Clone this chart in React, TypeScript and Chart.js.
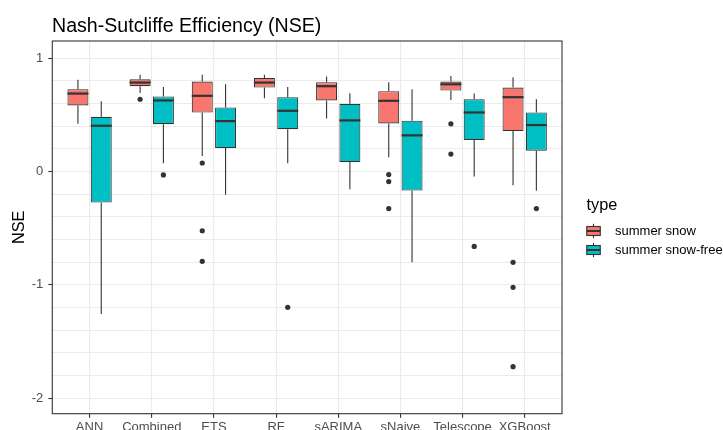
import React, { useEffect, useRef } from 'react';
import { Chart, registerables } from 'chart.js';

Chart.register(...registerables);

// ---- data ----------------------------------------------------------------
const categories = ['ANN', 'Combined', 'ETS', 'RF', 'sARIMA', 'sNaive', 'Telescope', 'XGBoost'];

// summer snow
const snowLow = [0.422, 0.695, 0.138, 0.648, 0.469, 0.126, 0.633, -0.12];
const snowQ1 = [0.584, 0.754, 0.522, 0.742, 0.628, 0.425, 0.716, 0.358];
const snowMedian = [0.689, 0.786, 0.669, 0.786, 0.754, 0.625, 0.771, 0.657];
const snowQ3 = [0.727, 0.815, 0.795, 0.827, 0.789, 0.71, 0.795, 0.742];
const snowHigh = [0.812, 0.856, 0.856, 0.856, 0.839, 0.789, 0.845, 0.833];
const snowOutliers = [[], [0.639], [0.076, -0.522, -0.792], [], [], [-0.026, -0.088, -0.326], [0.422, 0.155], [-0.801, -1.021, -1.722]];

// summer snow-free
const freeLow = [-1.257, 0.073, -0.205, 0.073, -0.155, -0.801, -0.044, -0.17];
const freeQ1 = [-0.273, 0.419, 0.208, 0.375, 0.085, -0.167, 0.279, 0.185];
const freeMedian = [0.405, 0.628, 0.446, 0.537, 0.452, 0.32, 0.522, 0.411];
const freeQ3 = [0.484, 0.663, 0.566, 0.657, 0.598, 0.449, 0.639, 0.522];
const freeHigh = [0.622, 0.748, 0.771, 0.748, 0.692, 0.727, 0.689, 0.639];
const freeOutliers = [[], [-0.029], [], [-1.198], [], [], [-0.66], [-0.326]];

const yGridValues = [-2, -1.8, -1.6, -1.4, -1.2, -1, -0.8, -0.6, -0.4, -0.2, 0, 0.2, 0.4, 0.6, 0.8, 1];
const yTickLabels = [-2, -1, 0, 1];

// ---- styling -------------------------------------------------------------
const FONT = '"Liberation Sans", Arial, Helvetica, sans-serif';
const INK = '#333333';
const GRID = '#EBEBEB';
const TICK_TEXT = '#4D4D4D';
const Y_MIN = -2.137;
const Y_MAX = 1.153;
const X_MIN = -0.6;
const X_MAX = 7.6;
const DODGE = 0.1875;

const series = [
  { label: 'summer snow', fill: '#F8766D', low: snowLow, q1: snowQ1, med: snowMedian, q3: snowQ3, high: snowHigh, outliers: snowOutliers, shift: -DODGE },
  { label: 'summer snow-free', fill: '#00BFC4', low: freeLow, q1: freeQ1, med: freeMedian, q3: freeQ3, high: freeHigh, outliers: freeOutliers, shift: DODGE },
];

// whiskers under the boxes, medians on top, plus panel frame, title and legend
const boxplotExtras = {
  id: 'boxplotExtras',
  beforeDatasetsDraw(chart: any) {
    const { ctx, scales } = chart;
    const y = scales.y;
    ctx.save();
    ctx.strokeStyle = INK;
    ctx.lineWidth = 1.1;
    series.forEach((s, d) => {
      const meta = chart.getDatasetMeta(d);
      meta.data.forEach((bar: any, i: number) => {
        ctx.beginPath();
        ctx.moveTo(bar.x, y.getPixelForValue(s.high[i]));
        ctx.lineTo(bar.x, y.getPixelForValue(s.q3[i]));
        ctx.moveTo(bar.x, y.getPixelForValue(s.q1[i]));
        ctx.lineTo(bar.x, y.getPixelForValue(s.low[i]));
        ctx.stroke();
      });
    });
    ctx.restore();
  },
  afterDatasetsDraw(chart: any) {
    const { ctx, scales } = chart;
    const y = scales.y;
    ctx.save();
    ctx.strokeStyle = INK;
    ctx.lineWidth = 2.2;
    series.forEach((s, d) => {
      const meta = chart.getDatasetMeta(d);
      meta.data.forEach((bar: any, i: number) => {
        const py = y.getPixelForValue(s.med[i]);
        ctx.beginPath();
        ctx.moveTo(bar.x - bar.width / 2, py);
        ctx.lineTo(bar.x + bar.width / 2, py);
        ctx.stroke();
      });
    });
    ctx.restore();
  },
  afterDraw(chart: any) {
    const { ctx, chartArea } = chart;
    ctx.save();
    // panel frame
    ctx.strokeStyle = INK;
    ctx.lineWidth = 1.1;
    ctx.strokeRect(chartArea.left, chartArea.top, chartArea.right - chartArea.left, chartArea.bottom - chartArea.top);

    // title
    ctx.fillStyle = '#000000';
    ctx.font = `19.6px ${FONT}`;
    ctx.textAlign = 'left';
    ctx.textBaseline = 'alphabetic';
    ctx.fillText('Nash-Sutcliffe Efficiency (NSE)', 52, 31.5);

    // legend
    ctx.font = `16.3px ${FONT}`;
    ctx.fillText('type', 586.5, 209.5);
    const keyX = 593.5;
    const keyCenters = [231, 250];
    series.forEach((s, k) => {
      const cy = keyCenters[k];
      ctx.strokeStyle = INK;
      ctx.lineWidth = 1.1;
      ctx.beginPath();
      ctx.moveTo(keyX, cy - 7.2);
      ctx.lineTo(keyX, cy + 7.2);
      ctx.stroke();
      ctx.fillStyle = s.fill;
      ctx.fillRect(keyX - 6.75, cy - 4.5, 13.5, 9);
      ctx.strokeRect(keyX - 6.75, cy - 4.5, 13.5, 9);
      ctx.lineWidth = 2;
      ctx.beginPath();
      ctx.moveTo(keyX - 6.75, cy);
      ctx.lineTo(keyX + 6.75, cy);
      ctx.stroke();
      ctx.fillStyle = '#000000';
      ctx.font = `13px ${FONT}`;
      ctx.fillText(s.label, 615, cy + 4);
    });
    ctx.restore();
  },
};

export default function App() {
  const canvasRef = useRef<HTMLCanvasElement>(null);

  useEffect(() => {
    const canvas = canvasRef.current;
    if (!canvas) return;

    const boxDatasets = series.map((s) => ({
      type: 'bar' as const,
      label: s.label,
      data: categories.map((_, i) => ({ x: i, y: [s.q1[i], s.q3[i]] })),
      backgroundColor: s.fill,
      borderColor: INK,
      borderWidth: 1.1,
      borderSkipped: false,
      barPercentage: 0.9,
      categoryPercentage: 0.75,
    }));

    const outlierPoints: { x: number; y: number }[] = [];
    series.forEach((s) => {
      s.outliers.forEach((vals, i) => {
        vals.forEach((v) => outlierPoints.push({ x: i + s.shift, y: v }));
      });
    });

    const chart = new Chart(canvas, {
      type: 'bar',
      data: {
        datasets: [
          ...boxDatasets,
          {
            type: 'scatter' as const,
            label: 'outliers',
            data: outlierPoints,
            pointRadius: 2.6,
            pointBackgroundColor: INK,
            pointBorderWidth: 0,
            pointHoverRadius: 2.6,
          },
        ] as any,
      },
      options: {
        responsive: false,
        devicePixelRatio: 1,
        animation: false,
        events: [],
        layout: { padding: { top: 41, right: 161, left: 0, bottom: 0 } },
        plugins: {
          legend: { display: false },
          title: { display: false },
          tooltip: { enabled: false },
        },
        scales: {
          x: {
            type: 'linear',
            min: X_MIN,
            max: X_MAX,
            offset: false,
            afterBuildTicks: (scale: any) => {
              scale.ticks = categories.map((_, i) => ({ value: i }));
            },
            afterFit: (scale: any) => {
              scale.height = 16.3;
            },
            grid: {
              offset: false,
              color: GRID,
              lineWidth: 1.1,
              tickColor: INK,
              tickLength: 4,
              tickWidth: 1.1,
            },
            border: { display: false },
            ticks: {
              autoSkip: false,
              maxRotation: 0,
              minRotation: 0,
              padding: 1.5,
              color: TICK_TEXT,
              font: { family: FONT, size: 13 },
              callback: (v: any) => categories[Math.round(Number(v))] ?? '',
            },
          },
          y: {
            type: 'linear',
            min: Y_MIN,
            max: Y_MAX,
            afterBuildTicks: (scale: any) => {
              scale.ticks = yGridValues.map((v) => ({ value: v }));
            },
            afterFit: (scale: any) => {
              scale.width = 52.3;
            },
            grid: {
              color: GRID,
              lineWidth: 1,
              tickColor: (ctx: any) => (yTickLabels.includes(ctx.tick?.value) ? INK : 'rgba(0,0,0,0)'),
              tickLength: 4,
              tickWidth: 1.1,
            },
            border: { display: false },
            ticks: {
              autoSkip: false,
              padding: 5,
              color: TICK_TEXT,
              font: { family: FONT, size: 13 },
              callback: (v: any) => (yTickLabels.includes(Number(v)) ? String(v) : ''),
            },
            title: {
              display: true,
              text: 'NSE',
              color: '#000000',
              font: { family: FONT, size: 16.3 },
              padding: { top: 10, bottom: 0 },
            },
          },
        },
      },
      plugins: [boxplotExtras],
    } as any);

    return () => chart.destroy();
  }, []);

  return (
    <div style={{ position: 'fixed', left: 0, top: 0, width: 723, height: 430, background: '#ffffff' }}>
      <canvas ref={canvasRef} width={723} height={430} style={{ display: 'block' }} />
    </div>
  );
}
